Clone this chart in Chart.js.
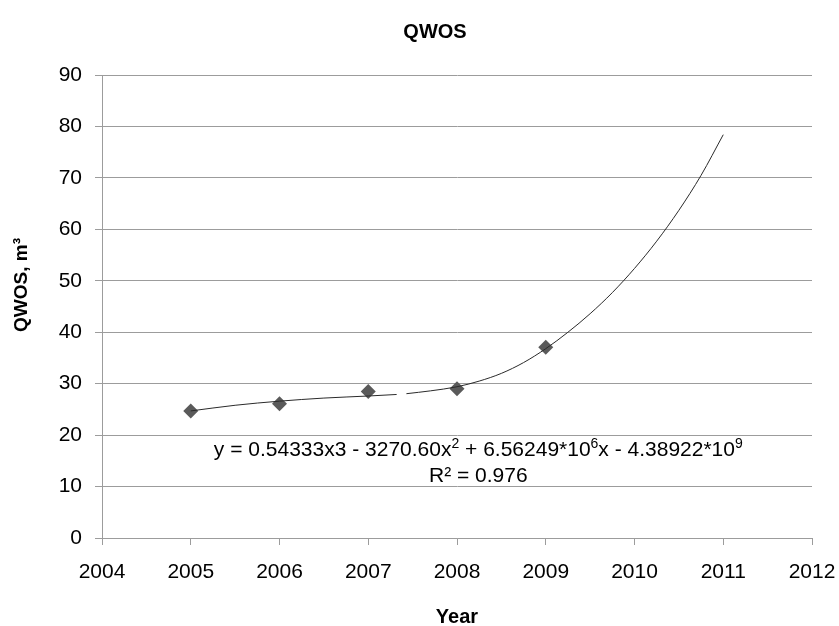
<!DOCTYPE html>
<html><head><meta charset="utf-8">
<script src="https://cdn.jsdelivr.net/npm/chart.js@4"></script>
<style>html,body{margin:0;padding:0;background:#fff}canvas{display:block}</style>
</head><body>
<canvas id="c" width="839" height="626"></canvas>
<script>
// ---- data ----
const years = [2005, 2006, 2007, 2008, 2009];
const qwos = [24.7, 26.1, 28.5, 29.0, 37.1];
const trendYears = [2005, 2005.5, 2006, 2006.5, 2007, 2007.32, 2007.375, 2007.43, 2007.7, 2008, 2008.25, 2008.5, 2008.75, 2009, 2009.25, 2009.5, 2009.75, 2010, 2010.25, 2010.5, 2010.75, 2011];
const trendValues = [24.7, 25.8, 26.6, 27.2, 27.6, 27.9, null, 28.05, 28.6, 29.4, 30.5, 32.0, 34.1, 36.8, 40.0, 43.6, 47.7, 52.4, 57.7, 63.7, 70.5, 78.4];
const xTickLabels = ['2004','2005','2006','2007','2008','2009','2010','2011','2012'];
const yTickLabels = ['0','10','20','30','40','50','60','70','80','90'];
const chartTitle = 'QWOS';
const xTitle = 'Year';
const yTitle = 'QWOS, m\u00B3';
const equationParts = [['y = 0.54333x3 - 3270.60x', false], ['2', true], [' + 6.56249*10', false], ['6', true], ['x - 4.38922*10', false], ['9', true]];
const r2Text = 'R\u00B2 = 0.976';

// ---- styling / placement ----
const FONT = "'Liberation Sans', Arial, sans-serif";
const GRID = '#9c9c9c';
const eqAnchor = {x: 2008.24, y: 17.0};
const r2Anchor = {x: 2008.24, y: 12.0};

const pts = years.map((y, i) => ({x: y, y: qwos[i]}));
const trend = trendYears.map((y, i) => ({x: y, y: trendValues[i]}));

const textPlugin = {
  id: 'texts',
  afterDraw(chart) {
    const ctx = chart.ctx, xs = chart.scales.x, ys = chart.scales.y, ca = chart.chartArea;
    ctx.save();
    ctx.fillStyle = '#000';
    ctx.textBaseline = 'middle';
    ctx.font = 'bold 20px ' + FONT;
    ctx.textAlign = 'center';
    ctx.fillText(chartTitle, 435, 32);
    ctx.fillText(xTitle, (ca.left + ca.right) / 2, 617);
    ctx.save();
    ctx.translate(22, 285);
    ctx.rotate(-Math.PI / 2);
    ctx.font = 'bold 19px ' + FONT;
    ctx.fillText(yTitle, 0, 0);
    ctx.restore();
    const normal = '21px ' + FONT, sup = '14px ' + FONT;
    let w = 0;
    equationParts.forEach(([t, s]) => { ctx.font = s ? sup : normal; w += ctx.measureText(t).width; });
    let x = xs.getPixelForValue(eqAnchor.x) - w / 2;
    const yEq = ys.getPixelForValue(eqAnchor.y);
    ctx.textAlign = 'left';
    equationParts.forEach(([t, s]) => {
      ctx.font = s ? sup : normal;
      ctx.fillText(t, x, s ? yEq - 6 : yEq);
      x += ctx.measureText(t).width;
    });
    ctx.font = normal;
    ctx.textAlign = 'center';
    ctx.fillText(r2Text, xs.getPixelForValue(r2Anchor.x), ys.getPixelForValue(r2Anchor.y));
    ctx.restore();
  }
};

new Chart(document.getElementById('c'), {
  type: 'scatter',
  data: {
    datasets: [
      {label: 'trend', data: trend, showLine: true, spanGaps: false, borderColor: '#2a2a2a', borderWidth: 1, pointRadius: 0, cubicInterpolationMode: 'monotone', fill: false, order: 0},
      {label: 'QWOS', data: pts, pointStyle: 'rectRot', pointRadius: 7.5, pointHoverRadius: 7.5, backgroundColor: '#5a5a5a', borderColor: '#5a5a5a', borderWidth: 0, order: 1}
    ]
  },
  options: {
    responsive: false,
    animation: false,
    devicePixelRatio: 1,
    layout: {padding: {left: 0, right: 27, top: 75, bottom: 0}},
    plugins: {legend: {display: false}, title: {display: false}, tooltip: {enabled: false}},
    scales: {
      x: {
        type: 'linear', min: 2004, max: 2012,
        afterBuildTicks: s => { s.ticks = xTickLabels.map(v => ({value: Number(v)})); },
        afterFit: s => { s.height = 88; s.paddingLeft = 0; s.paddingRight = 0; },
        ticks: {callback: v => String(v), font: {size: 21, family: FONT}, color: '#000', padding: 15, maxRotation: 0, autoSkip: false},
        grid: {drawOnChartArea: false, drawTicks: true, tickLength: 7, color: GRID},
        border: {color: GRID}
      },
      y: {
        min: 0, max: 90,
        afterBuildTicks: s => { s.ticks = yTickLabels.map(v => ({value: Number(v)})); },
        afterFit: s => { s.width = 102; s.paddingTop = 0; s.paddingBottom = 0; },
        ticks: {callback: v => String(v), font: {size: 21, family: FONT}, color: '#000', padding: 13},
        grid: {color: GRID, tickLength: 7},
        border: {color: GRID}
      }
    }
  },
  plugins: [textPlugin]
});
</script>
</body></html>
